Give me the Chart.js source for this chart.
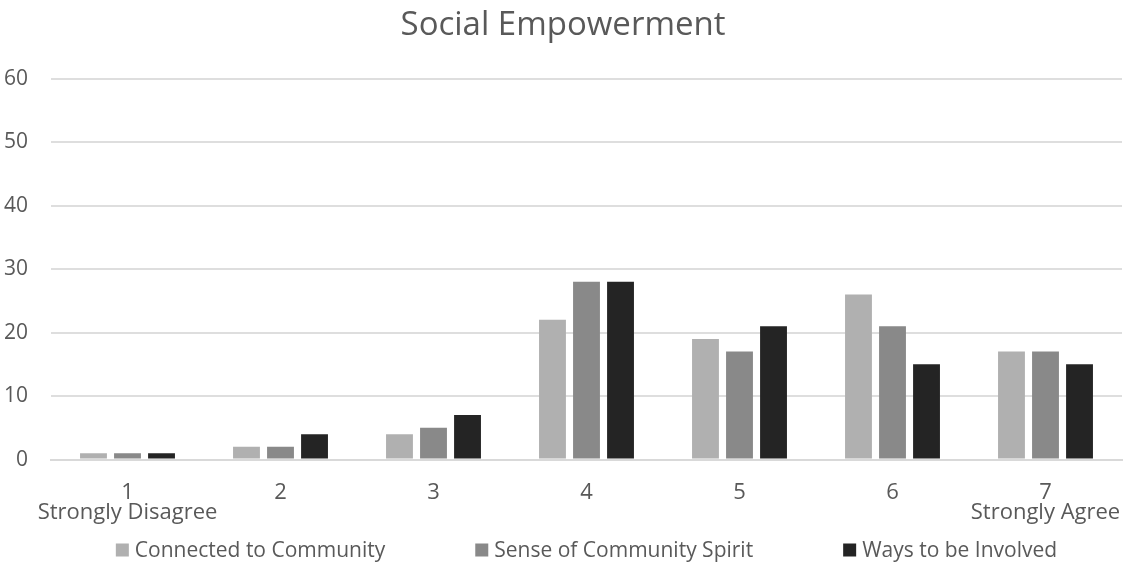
<!DOCTYPE html>
<html>
<head>
<meta charset="utf-8">
<script src="https://cdn.jsdelivr.net/npm/chart.js@4"></script>
<style>
  body { margin: 0; background: #fff; }
  #wrap { width: 1124px; height: 566px; }
</style>
</head>
<body>
<div id="wrap"><canvas id="myChart"></canvas></div>
<script>
var categories = [['1', 'Strongly Disagree'], '2', '3', '4', '5', '6', ['7', 'Strongly Agree']];
var connected = [1, 2, 4, 22, 19, 26, 17];
var spirit = [1, 2, 5, 28, 17, 21, 17];
var involved = [1, 4, 7, 28, 21, 15, 15];
var yTicks = [0, 10, 20, 30, 40, 50, 60];

var textColor = '#595959';
var font = 'Open Sans';

// legend with wide gaps between items, drawn under the axis labels
var spacedLegend = {
  id: 'spacedLegend',
  afterDraw: function(chart) {
    var c = chart.ctx;
    var sets = chart.data.datasets;
    var box = 13, gapText = 6, gapItem = 90;
    c.save();
    c.font = '21px "' + font + '"';
    c.textBaseline = 'middle';
    var widths = sets.map(function(d) { return box + gapText + c.measureText(d.label).width; });
    var total = widths.reduce(function(a, b) { return a + b; }, 0) + gapItem * (sets.length - 1);
    var x = (chart.chartArea.left + chart.chartArea.right) / 2 - total / 2;
    var y = chart.height - 16;
    sets.forEach(function(d, i) {
      c.fillStyle = d.backgroundColor;
      c.fillRect(x, y - box / 2, box, box);
      c.fillStyle = textColor;
      c.fillText(d.label, x + box + gapText, y + 1);
      x += widths[i] + gapItem;
    });
    c.restore();
  }
};

var ctx = document.getElementById('myChart').getContext('2d');
new Chart(ctx, {
  type: 'bar',
  data: {
    labels: categories,
    datasets: [
      { label: 'Connected to Community', data: connected, backgroundColor: '#b0b0b0' },
      { label: 'Sense of Community Spirit', data: spirit, backgroundColor: '#898989' },
      { label: 'Ways to be Involved', data: involved, backgroundColor: '#242424' }
    ]
  },
  plugins: [spacedLegend],
  options: {
    responsive: true,
    maintainAspectRatio: false,
    animation: false,
    categoryPercentage: 0.667,
    barPercentage: 0.79,
    layout: { padding: { left: 4, right: 2, top: 0, bottom: 20 } },
    plugins: {
      title: {
        display: true,
        text: 'Social Empowerment',
        color: textColor,
        font: { family: font, size: 33, weight: 'normal' },
        padding: { top: 6, bottom: 33 }
      },
      legend: { display: false },
      tooltip: { enabled: false }
    },
    scales: {
      y: {
        min: 0,
        max: 60,
        afterBuildTicks: function(axis) {
          axis.ticks = yTicks.map(function(v) { return { value: v }; });
        },
        afterFit: function(axis) {
          axis.width = 47;
        },
        grid: { color: '#dedede', lineWidth: 2, drawTicks: false },
        border: { display: false },
        ticks: { color: textColor, font: { family: font, size: 21 }, padding: 23 }
      },
      x: {
        // let the end labels hang past the plot edges
        afterFit: function(axis) {
          axis.paddingLeft = 0;
          axis.paddingRight = 0;
        },
        grid: { display: false, drawTicks: false },
        border: { color: '#d9d9d9', width: 2 },
        ticks: {
          color: textColor,
          font: { family: font, size: 22, lineHeight: 0.92 },
          padding: 23,
          maxRotation: 0,
          autoSkip: false
        }
      }
    }
  }
});
</script>
</body>
</html>
